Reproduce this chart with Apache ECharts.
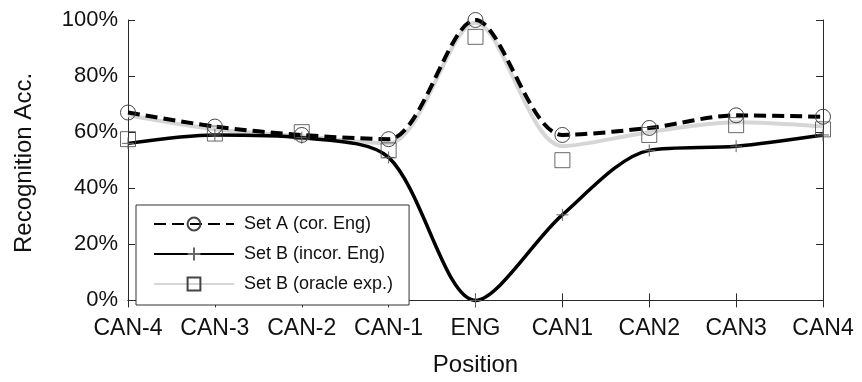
<!DOCTYPE html>
<html>
<head>
<meta charset="utf-8">
<script src="https://cdn.jsdelivr.net/npm/echarts@6/dist/echarts.min.js"></script>
<style>
  html, body { margin: 0; padding: 0; background: #fff; }
  #chart { width: 862px; height: 382px; }
</style>
</head>
<body>
<div id="chart"></div>
<script>
// Positions relative to the English word
const positions = ['CAN-4', 'CAN-3', 'CAN-2', 'CAN-1', 'ENG', 'CAN1', 'CAN2', 'CAN3', 'CAN4'];

// Recognition accuracy (%)
const setA = [67, 62, 59, 57.5, 100, 59, 61.5, 66, 65.5];          // Set A (cor. Eng)
const setBIncor = [56, 59, 58, 51, 0, 30.5, 53.5, 55, 59];         // Set B (incor. Eng)
const oracleTrace = [66, 61, 58.5, 56, 99, 55, 60, 63.5, 62];      // smoothed oracle curve
const oracleMarks = [57.5, 59.5, 60, 53.5, 94, 50, 59, 62.5, 61];  // oracle measurements

const yTicks = [0, 20, 40, 60, 80, 100];

const names = ['Set A (cor. Eng)', 'Set B (incor. Eng)', 'Set B (oracle exp.)'];
const FONT = '"Liberation Sans", Arial, Helvetica, sans-serif';
const AXIS_COLOR = '#2a2a2a';
const SMOOTH = 0.3;
const hollow = { color: 'rgba(0,0,0,0)', borderWidth: 1 };

const chart = echarts.init(document.getElementById('chart'), null, { renderer: 'canvas' });

chart.setOption({
  animation: false,
  backgroundColor: '#fff',
  textStyle: { fontFamily: FONT },
  grid: { left: 128, right: 39, top: 20, bottom: 71, containLabel: false },
  legend: {
    data: names,
    orient: 'vertical',
    left: 136,
    top: 205,
    backgroundColor: '#fff',
    borderColor: '#333',
    borderWidth: 1,
    borderRadius: 0,
    padding: [10, 16, 12, 17],
    itemWidth: 80,
    itemHeight: 16,
    itemGap: 12,
    textStyle: { fontSize: 18, color: '#111', fontFamily: FONT, padding: [0, 0, 0, 5] }
  },
  xAxis: [
    {
      type: 'category',
      data: positions,
      boundaryGap: false,
      position: 'bottom',
      name: 'Position',
      nameLocation: 'middle',
      nameGap: 47,
      nameTextStyle: { fontSize: 24, color: '#111', fontFamily: FONT },
      axisLine: { lineStyle: { color: AXIS_COLOR, width: 1 } },
      axisTick: { inside: true, length: 7, interval: 0, lineStyle: { color: AXIS_COLOR } },
      axisLabel: { fontSize: 23, color: '#111', margin: 11, interval: 0, hideOverlap: false, fontFamily: FONT },
      splitLine: { show: false }
    },
    {
      type: 'category',
      data: positions,
      boundaryGap: false,
      position: 'top',
      axisLine: { lineStyle: { color: AXIS_COLOR, width: 1 } },
      axisTick: { inside: true, length: 7, interval: 0, lineStyle: { color: AXIS_COLOR } },
      axisLabel: { show: false },
      splitLine: { show: false }
    }
  ],
  yAxis: [
    {
      type: 'value',
      min: -2,
      max: 100,
      name: 'Recognition Acc.',
      nameLocation: 'middle',
      nameGap: 92,
      nameTextStyle: { fontSize: 24, color: '#111', fontFamily: FONT },
      axisLine: { show: true, lineStyle: { color: AXIS_COLOR, width: 1 } },
      axisTick: { show: true, inside: true, length: 7, customValues: yTicks, lineStyle: { color: AXIS_COLOR } },
      axisLabel: {
        fontSize: 22, color: '#111', margin: 10, fontFamily: FONT,
        customValues: yTicks,
        formatter: v => v + '%'
      },
      splitLine: { show: false }
    },
    {
      type: 'value',
      min: -2,
      max: 100,
      position: 'right',
      axisLine: { show: true, lineStyle: { color: AXIS_COLOR, width: 1 } },
      axisTick: { show: true, inside: true, length: 7, customValues: yTicks, lineStyle: { color: AXIS_COLOR } },
      axisLabel: { show: false },
      splitLine: { show: false }
    }
  ],
  series: [
    {
      name: names[2],
      type: 'line',
      smooth: SMOOTH,
      data: oracleTrace.map(v => ({ value: v, symbol: 'none' })),
      symbol: 'rect',
      symbolSize: 15,
      itemStyle: Object.assign({ borderColor: '#444' }, hollow),
      lineStyle: { color: '#d6d6d6', width: 4 },
      z: 1
    },
    {
      name: names[2],
      type: 'scatter',
      data: oracleMarks,
      symbol: 'rect',
      symbolSize: 15,
      itemStyle: Object.assign({ borderColor: '#444' }, hollow),
      z: 5
    },
    {
      name: names[1],
      type: 'line',
      smooth: SMOOTH,
      data: setBIncor,
      symbol: 'path://M5,0L5,10M0,5L10,5',
      symbolSize: 12,
      itemStyle: { color: 'rgba(0,0,0,0)', borderColor: '#666', borderWidth: 1 },
      lineStyle: { color: '#000', width: 3.5 },
      z: 3
    },
    {
      name: names[0],
      type: 'line',
      smooth: SMOOTH,
      data: setA,
      symbol: 'circle',
      symbolSize: 15,
      itemStyle: Object.assign({ borderColor: '#444' }, hollow),
      lineStyle: { color: '#000', width: 4, type: [12, 6] },
      z: 4
    }
  ]
});
</script>
</body>
</html>
